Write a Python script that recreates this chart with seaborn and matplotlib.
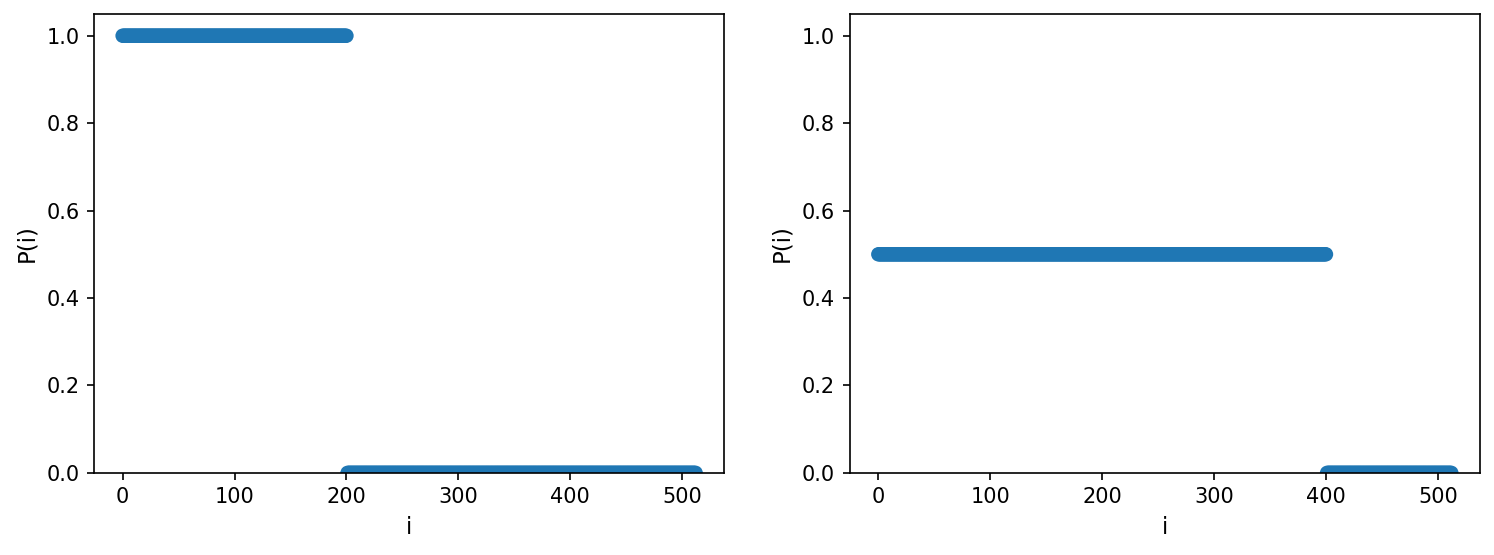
import numpy as np
import pandas as pd
import seaborn as sns
import matplotlib
matplotlib.use("Agg")
import matplotlib.pyplot as plt

# Data: indices 0..512; left: P=1 on first 201 indices, right: P=0.5 on first 401
n_points = 513
left_high_count = 201
left_high_value = 1.0
right_high_count = 401
right_high_value = 0.5
low_value = 0.0

idx = list(range(n_points))
left_p = [left_high_value] * left_high_count + [low_value] * (n_points - left_high_count)
right_p = [right_high_value] * right_high_count + [low_value] * (n_points - right_high_count)

df_left = pd.DataFrame({"i": idx, "P(i)": left_p})
df_right = pd.DataFrame({"i": idx, "P(i)": right_p})

sns.set_style("ticks")
plt.rcParams['font.family'] = ['DejaVu Sans']
plt.rcParams.update({
    "text.color": "black",
    "axes.labelcolor": "black",
    "xtick.color": "black",
    "ytick.color": "black",
    "axes.edgecolor": "black",
})

fig, axes = plt.subplots(1, 2, figsize=(9.96, 3.7), dpi=150)
fig.subplots_adjust(left=0.0629, right=0.9906, bottom=0.148, top=0.975, wspace=0.199)

for ax, df in zip(axes, [df_left, df_right]):
    sns.scatterplot(data=df, x="i", y="P(i)", ax=ax, color="#1f77b4", s=48,
                    linewidth=0, edgecolor="none")
    ax.set_ylim(bottom=0, top=1.05)
    ax.set_yticks([0.0, 0.2, 0.4, 0.6, 0.8, 1.0])
    ax.set_xticks([0, 100, 200, 300, 400, 500])
    ax.set_xlabel("i", fontsize=11)
    ax.set_ylabel("P(i)", fontsize=11)
    ax.tick_params(labelsize=10, colors="black")
    for sp in ax.spines.values():
        sp.set_visible(True)
        sp.set_color("black")
        sp.set_linewidth(0.8)

fig.savefig("out.png", dpi=150)
